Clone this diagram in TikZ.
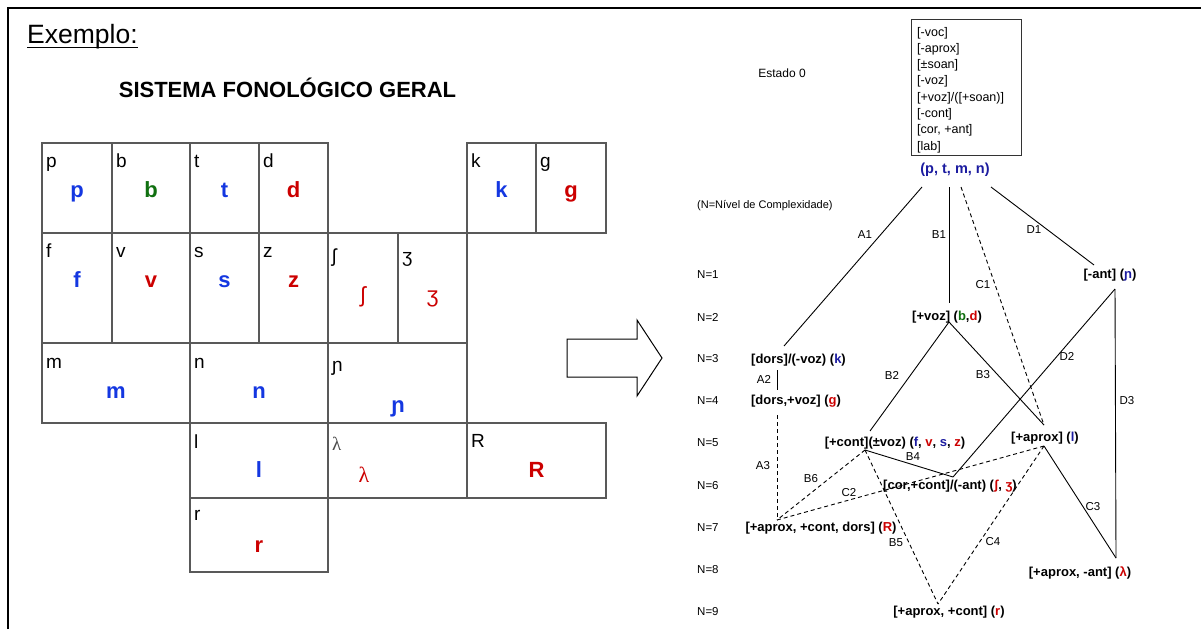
\documentclass[tikz,border=0pt]{standalone}
\usepackage{fontspec}
\setmainfont{Liberation Sans}
\newfontfamily\serifgr{Liberation Serif}
\definecolor{tblue}{RGB}{20,55,225}
\definecolor{tred}{RGB}{204,0,0}
\definecolor{tgreen}{RGB}{16,112,16}
\definecolor{dblue}{RGB}{28,28,160}
\begin{document}
\begin{tikzpicture}[x=1pt,y=-1pt,
  cellbox/.style={draw=black!65, line width=1.1pt},
  blk/.style={inner sep=0pt, anchor=base west, font=\fontsize{19}{19}\selectfont},
  col/.style={inner sep=0pt, anchor=base, font=\fontsize{22}{22}\selectfont\bfseries},
  tnode/.style={inner sep=0pt, font=\fontsize{13}{13}\selectfont\bfseries},
  elab/.style={inner sep=0pt, font=\fontsize{11.5}{11.5}\selectfont},
  nlev/.style={inner sep=0pt, anchor=west, font=\fontsize{11.5}{11.5}\selectfont},
  feat/.style={inner sep=0pt, anchor=base west, font=\fontsize{12.5}{12.5}\selectfont},
  sline/.style={line width=0.9pt},
  dline/.style={line width=0.9pt, dash pattern=on 4pt off 3pt}]
\useasboundingbox (0,0) rectangle (1201,629);
\fill[white] (0,0) rectangle (1201,629);
% frame
\draw[line width=2pt] (8,629) -- (8,8) -- (1201,8);
% titles
\node[inner sep=0pt, anchor=base west, font=\fontsize{26.5}{26.5}\selectfont] (ex) at (27,43) {Exemplo:};
\draw[line width=1.3pt] ([yshift=-4.5pt]ex.base west) -- ([yshift=-4.5pt]ex.base east);
\node[inner sep=0pt, anchor=base, font=\fontsize{22}{22}\selectfont\bfseries] (title) at (287.5,97) {SISTEMA FONOLÓGICO GERAL};
% table cells
\draw[cellbox] (42,143) rectangle (112,233);
\draw[cellbox] (112,143) rectangle (190,233);
\draw[cellbox] (190,143) rectangle (259,233);
\draw[cellbox] (259,143) rectangle (328,233);
\draw[cellbox] (467,143) rectangle (536,233);
\draw[cellbox] (536,143) rectangle (606,233);
\draw[cellbox] (42,233) rectangle (112,343);
\draw[cellbox] (112,233) rectangle (190,343);
\draw[cellbox] (190,233) rectangle (259,343);
\draw[cellbox] (259,233) rectangle (328,343);
\draw[cellbox] (328,233) rectangle (398,343);
\draw[cellbox] (398,233) rectangle (467,343);
\draw[cellbox] (42,343) rectangle (190,423);
\draw[cellbox] (190,343) rectangle (328,423);
\draw[cellbox] (328,343) rectangle (467,423);
\draw[cellbox] (190,423) rectangle (328,498);
\draw[cellbox] (328,423) rectangle (467,498);
\draw[cellbox] (467,423) rectangle (606,498);
\draw[cellbox] (190,498) rectangle (328,572);
% black letters
\node[blk] (bp) at (46,167) {p};
\node[blk] (bb) at (116,167) {b};
\node[blk] (bt) at (194,167) {t};
\node[blk] (bd) at (263,167) {d};
\node[blk] (bk) at (471,167) {k};
\node[blk] (bg) at (540,167) {g};
\node[blk] (bf) at (46,257) {f};
\node[blk] (bv) at (116,257) {v};
\node[blk] (bs) at (194,257) {s};
\node[blk] (bz) at (263,257) {z};
\node[blk] (besh) at (332,262) {ʃ};
\node[blk] (bezh) at (402,262) {ʒ};
\node[blk] (bm) at (46,368) {m};
\node[blk] (bn) at (194,368) {n};
\node[blk] (bnj) at (332,371) {ɲ};
\node[blk] (bl) at (194,448) {l};
\node[blk, text=black!70, font=\fontsize{19}{19}\selectfont\serifgr] (blam) at (332,450) {λ};
\node[blk] (bR) at (471,447) {R};
\node[blk] (br) at (194,520) {r};
% coloured letters
\node[col, text=tblue] (cp) at (77,197) {p};
\node[col, text=tgreen] (cb) at (151,197) {b};
\node[col, text=tblue] (ct) at (224.5,197) {t};
\node[col, text=tred] (cd) at (293.5,197) {d};
\node[col, text=tblue] (ck) at (501.5,197) {k};
\node[col, text=tred] (cg) at (571,197) {g};
\node[col, text=tblue] (cf) at (77,287) {f};
\node[col, text=tred] (cv) at (151,287) {v};
\node[col, text=tblue] (cs) at (224.5,287) {s};
\node[col, text=tred] (cz) at (293.5,287) {z};
\node[col, text=tred, font=\fontsize{22}{22}\selectfont] (cesh) at (363,302) {ʃ};
\node[col, text=tred, font=\fontsize{22}{22}\selectfont] (cezh) at (432.5,302) {ʒ};
\node[col, text=tblue] (cm) at (116,398) {m};
\node[col, text=tblue] (cn) at (259,398) {n};
\node[col, text=tblue] (cnj) at (398,412) {ɲ};
\node[col, text=tblue] (cl) at (259,477) {l};
\node[col, text=tred, font=\fontsize{22}{22}\selectfont\serifgr] (clam) at (364,482) {λ};
\node[col, text=tred] (cR) at (536.5,477) {R};
\node[col, text=tred] (cr) at (259,552) {r};
% block arrow
\draw[line width=1pt] (567,339) -- (637,339) -- (637,320) -- (662,358) -- (637,396) -- (637,377) -- (567,377) -- cycle;
% right part
\node[inner sep=0pt, font=\fontsize{12}{12}\selectfont] (est) at (782,73) {Estado 0};
\node[draw=black!80, line width=1pt, minimum width=110pt, minimum height=136pt, inner sep=0pt] (box) at (966,87) {};
\begin{scope}
\clip (911,19) rectangle (1021,155);
\node[feat] (f1) at (917,36) {[-voc]};
\node[feat] (f2) at (917,52.3) {[-aprox]};
\node[feat] (f3) at (917,68.6) {[±soan]};
\node[feat] (f4) at (917,84.9) {[-voz]};
\node[feat] (f5) at (917,101.2) {[+voz]/([+soan)]};
\node[feat] (f6) at (917,117.5) {[-cont]};
\node[feat] (f7) at (917,133.8) {[cor, +ant]};
\node[feat] (f8) at (917,150.1) {[lab]};
\end{scope}
\node[tnode, text=dblue, font=\fontsize{14.5}{14.5}\selectfont\bfseries] (root) at (955,170) {(p, t, m, n)};
\node[inner sep=0pt, anchor=west, font=\fontsize{11}{11}\selectfont] (nota) at (697,206) {(N=Nível de Complexidade)};
% levels
\node[nlev] (n1) at (697,275) {N=1};
\node[nlev] (n2) at (697,317) {N=2};
\node[nlev] (n3) at (697,359) {N=3};
\node[nlev] (n4) at (697,401) {N=4};
\node[nlev] (n5) at (697,443) {N=5};
\node[nlev] (n6) at (697,486) {N=6};
\node[nlev] (n7) at (697,528) {N=7};
\node[nlev] (n8) at (697,570) {N=8};
\node[nlev] (n9) at (697,612) {N=9};
% tree nodes
\node[tnode] (ant) at (1110,275) {[-ant] (\textcolor{dblue}{ɲ})};
\node[tnode] (voz) at (947,317) {[+voz] (\textcolor{tgreen}{b},\textcolor{tred}{d})};
\node[tnode] (dors) at (798.5,360) {[dors]/(-voz) (\textcolor{dblue}{k})};
\node[tnode] (dorsv) at (796,401) {[dors,+voz] (\textcolor{tred}{g})};
\node[tnode] (cont) at (895,443) {[+cont](±voz) (\textcolor{dblue}{f}, \textcolor{tred}{v}, \textcolor{dblue}{s}, \textcolor{tred}{z})};
\node[tnode] (aprox) at (1045,438) {[+aprox] (\textcolor{dblue}{l})};
\node[tnode] (cor) at (950,486) {[cor,+cont]/(-ant) (\textcolor{tred}{ʃ}, \textcolor{tred}{ʒ})};
\node[tnode] (uvul) at (821,528) {[+aprox, +cont, dors] (\textcolor{tred}{R})};
\node[tnode] (lat) at (1080,573) {[+aprox, -ant] (\textcolor{tred}{λ})};
\node[tnode] (vib) at (949,612) {[+aprox, +cont] (\textcolor{tred}{r})};
% junction points
\coordinate (ra) at (922,187);
\coordinate (rb) at (949,187);
\coordinate (rc) at (961,187);
\coordinate (rd) at (991,187);
\coordinate (dors-t) at (784,346);
\coordinate (dors-b) at (777,370);
\coordinate (dorsv-t) at (777,390);
\coordinate (dorsv-b) at (777,415);
\coordinate (uvul-t) at (777,520);
\coordinate (voz-t) at (949,303);
\coordinate (voz-b) at (949,322);
\coordinate (ant-t) at (1094,265);
\coordinate (ant-b) at (1115,289);
\coordinate (cont-t) at (870,431);
\coordinate (cont-j) at (865,450);
\coordinate (aprox-t) at (1044,425);
\coordinate (aprox-b) at (1044,446);
\coordinate (cor-t) at (953,477);
\coordinate (lat-t) at (1116,558);
\coordinate (vib-t) at (938,604);
% connectors
\draw[sline] (ra) -- (dors-t);
\draw[sline] (rb) -- (voz-t);
\draw[dline] (rc) -- (aprox-t);
\draw[sline] (rd) -- (ant-t);
\draw[sline] (dors-b) -- (dorsv-t);
\draw[dline] (dorsv-b) -- (uvul-t);
\draw[sline] (voz-b) -- (cont-t);
\draw[sline] (voz-b) -- (aprox-t);
\draw[sline] (ant-b) -- (cor-t);
\draw[sline] (ant-b) -- (lat-t);
\draw[sline] (cont-j) -- (cor-t);
\draw[dline] (cont-j) -- (vib-t);
\draw[dline] (cont-j) -- (uvul-t);
\draw[dline] (uvul-t) -- (aprox-b);
\draw[sline] (aprox-b) -- (lat-t);
\draw[dline] (aprox-b) -- (vib-t);
% connector labels
\node[elab] (lA1) at (865,235) {A1};
\node[elab] (lB1) at (939,235) {B1};
\node[elab] (lC1) at (983,285) {C1};
\node[elab] (lD1) at (1034,230) {D1};
\node[elab] (lB2) at (892,375) {B2};
\node[elab] (lB3) at (983,375) {B3};
\node[elab] (lD2) at (1067,356) {D2};
\node[elab] (lD3) at (1127,401) {D3};
\node[elab] (lA2) at (764,379) {A2};
\node[elab] (lA3) at (763,466) {A3};
\node[elab] (lB4) at (913,457) {B4};
\node[elab] (lB6) at (811,479) {B6};
\node[elab] (lC2) at (849,493) {C2};
\node[elab] (lB5) at (896,543) {B5};
\node[elab] (lC4) at (993,542) {C4};
\node[elab] (lC3) at (1093,507) {C3};
\end{tikzpicture}
\end{document}
